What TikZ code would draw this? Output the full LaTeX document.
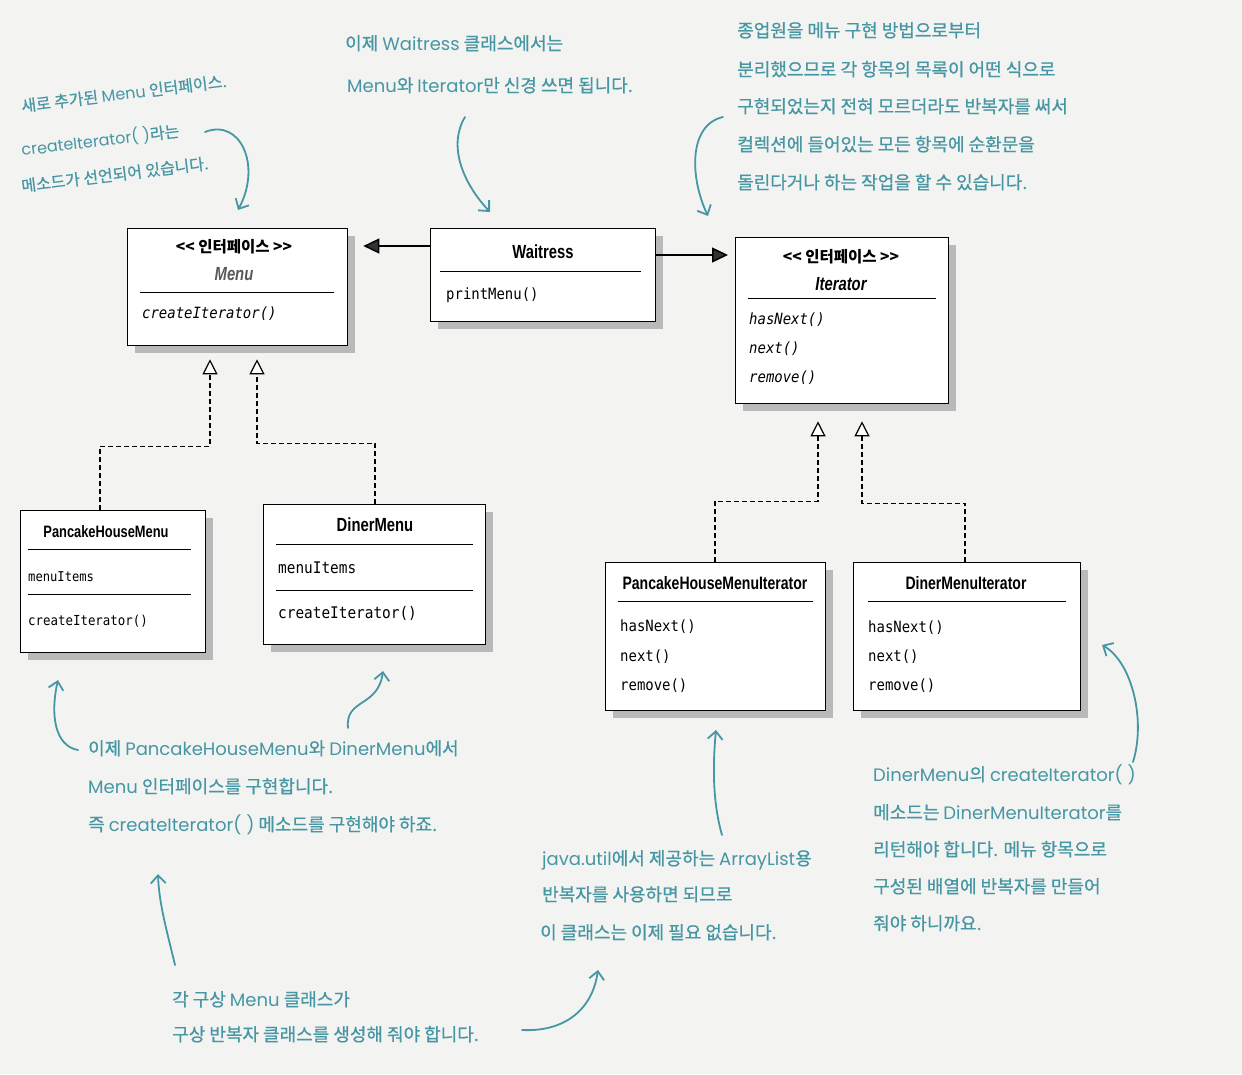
\documentclass[tikz,border=0pt]{standalone}
\usepackage{fontspec}
\setmainfont{Noto Sans CJK KR}
\newfontfamily\hand[FakeBold=0.7]{Noto Sans CJK KR}
\newfontfamily\lat{Poppins}
\newfontfamily\kr{Noto Sans CJK KR}
\newfontfamily\cls[FakeStretch=0.78]{Liberation Sans}
\newfontfamily\mono[FakeStretch=0.9]{DejaVu Sans Mono}
\newcommand\lt[1]{{\lat #1}}
\usetikzlibrary{arrows.meta,shadows,calc}
\definecolor{teal1}{HTML}{4696A4}
\definecolor{bg}{HTML}{F3F4F2}
\definecolor{tipgray}{HTML}{333333}
\tikzset{
  umlbox/.style={draw=black, line width=1.3pt, fill=white, anchor=north west, inner sep=0pt,
    drop shadow={shadow xshift=7pt, shadow yshift=-7pt, fill=gray!55, opacity=1}},
  sepline/.style={draw=black, line width=0.9pt},
  ctitle/.style={font=\cls\bfseries\fontsize{19}{19}\selectfont, anchor=base, inner sep=0pt},
  ititle/.style={font=\cls\bfseries\itshape\fontsize{19}{19}\selectfont, anchor=base, inner sep=0pt},
  hdr/.style={font=\kr\bfseries\fontsize{15.5}{15.5}\selectfont, anchor=base, inner sep=0pt},
  meth/.style={font=\mono\fontsize{15.5}{15.5}\selectfont, anchor=base west, inner sep=0pt},
  imeth/.style={font=\mono\itshape\fontsize{15.5}{15.5}\selectfont, anchor=base west, inner sep=0pt},
  hw/.style={font=\hand\fontsize{18}{18}\selectfont, text=teal1, anchor=base west, inner sep=0pt},
  hwr/.style={hw, rotate=7, font=\hand\fontsize{16}{16}\selectfont},
  assoc/.style={draw=black, line width=1.5pt, -{Triangle[length=16pt,width=15pt,fill=tipgray]}},
  realize/.style={draw=black, line width=1.2pt, dash pattern=on 5pt off 3pt,
    -{Triangle[open,length=15pt,width=15pt,fill=white]}},
  note/.style={draw=teal1, line width=1.8pt, line cap=round,
    -{Straight Barb[length=8pt,width=15pt,line width=1.8pt]}}
}
\begin{document}
\begin{tikzpicture}[x=1pt,y=-1pt]
\fill[bg] (0,0) rectangle (1242,1074);
\useasboundingbox (0,0) rectangle (1242,1074);

% ---------- Menu interface ----------
\node[umlbox, minimum width=220, minimum height=117] (menu) at (127,228) {};
\node[hdr] (menuS) at (234,252) {{<}{<} 인터페이스 {>}{>}};
\node[ititle, text=black!65] (menuN) at (234,280) {Menu};
\draw[sepline] ($(menu.north west)+(13,64)$) -- ($(menu.north east)+(-14,64)$);
\node[imeth] (menuM) at (142,318) {createIterator()};

% ---------- Waitress ----------
\node[umlbox, minimum width=225, minimum height=93] (waitress) at (430,228) {};
\node[ctitle] (waitN) at (543,258) {Waitress};
\draw[sepline] ($(waitress.north west)+(10,43)$) -- ($(waitress.north east)+(-15,43)$);
\node[meth] (waitM) at (446,299) {printMenu()};

% ---------- Iterator interface ----------
\node[umlbox, minimum width=213, minimum height=166] (iter) at (735,237) {};
\node[hdr] (iterS) at (841,262) {{<}{<} 인터페이스 {>}{>}};
\node[ititle] (iterN) at (841,290) {Iterator};
\draw[sepline] ($(iter.north west)+(13,61)$) -- ($(iter.north east)+(-13,61)$);
\node[imeth] (iterM1) at (749,324) {hasNext()};
\node[imeth] (iterM2) at (749,353) {next()};
\node[imeth] (iterM3) at (749,382) {remove()};

% ---------- PancakeHouseMenu ----------
\node[umlbox, minimum width=185, minimum height=142] (phm) at (20,510) {};
\node[ctitle, font=\cls\bfseries\fontsize{16.5}{16.5}\selectfont] (phmN) at (106,537) {PancakeHouseMenu};
\draw[sepline] ($(phm.north west)+(8,39)$) -- ($(phm.north east)+(-15,39)$);
\node[meth, font=\mono\fontsize{13.5}{13.5}\selectfont] (phmA) at (28,581) {menuItems};
\draw[sepline] ($(phm.north west)+(8,84)$) -- ($(phm.north east)+(-15,84)$);
\node[meth, font=\mono\fontsize{13.8}{13.8}\selectfont] (phmM) at (28,625) {createIterator()};

% ---------- DinerMenu ----------
\node[umlbox, minimum width=222, minimum height=140] (dm) at (263,504) {};
\node[ctitle] (dmN) at (375,531) {DinerMenu};
\draw[sepline] ($(dm.north west)+(13,40)$) -- ($(dm.north east)+(-13,40)$);
\node[meth, font=\mono\fontsize{16}{16}\selectfont] (dmA) at (278,573) {menuItems};
\draw[sepline] ($(dm.north west)+(13,86)$) -- ($(dm.north east)+(-13,86)$);
\node[meth, font=\mono\fontsize{16}{16}\selectfont] (dmM) at (278,618) {createIterator()};

% ---------- PancakeHouseMenuIterator ----------
\node[umlbox, minimum width=220, minimum height=148] (phmi) at (605,562) {};
\node[ctitle, font=\cls\bfseries\fontsize{18}{18}\selectfont] (phmiN) at (715,589) {PancakeHouseMenuIterator};
\draw[sepline] ($(phmi.north west)+(13,39)$) -- ($(phmi.north east)+(-13,39)$);
\node[meth] (phmiM1) at (620,631) {hasNext()};
\node[meth] (phmiM2) at (620,661) {next()};
\node[meth] (phmiM3) at (620,690) {remove()};

% ---------- DinerMenuIterator ----------
\node[umlbox, minimum width=227, minimum height=148] (dmi) at (853,562) {};
\node[ctitle, font=\cls\bfseries\fontsize{18}{18}\selectfont] (dmiN) at (966,589) {DinerMenuIterator};
\draw[sepline] ($(dmi.north west)+(15,39)$) -- ($(dmi.north east)+(-15,39)$);
\node[meth] (dmiM1) at (868,632) {hasNext()};
\node[meth] (dmiM2) at (868,661) {next()};
\node[meth] (dmiM3) at (868,690) {remove()};

% ---------- associations ----------
\draw[assoc] ($(waitress.north west)+(0,18)$) -- ($(menu.north east)+(15,18)$);
\draw[assoc] ($(waitress.north east)+(0,27)$) -- ($(iter.north west)+(-7,18)$);

% ---------- realizations ----------
\coordinate (menuTipA) at ($(menu.south west)+(83,13)$);
\coordinate (menuTipB) at ($(menu.south west)+(130,13)$);
\coordinate (iterTipA) at ($(iter.south west)+(83,17)$);
\coordinate (iterTipB) at ($(iter.south west)+(127,17)$);
\draw[realize] ($(phm.north west)+(80,0)$) |- ($(menuTipA)+(0,87)$) -- (menuTipA);
\draw[realize] ($(dm.north west)+(112,0)$) |- ($(menuTipB)+(0,84)$) -- (menuTipB);
\draw[realize] ($(phmi.north west)+(110,0)$) |- ($(iterTipA)+(0,80)$) -- (iterTipA);
\draw[realize] ($(dmi.north west)+(112,0)$) |- ($(iterTipB)+(0,82)$) -- (iterTipB);

% ---------- handwritten notes ----------
\node[hwr] (nA1) at (22,112) {새로 추가된 \lt{Menu} 인터페이스.};
\node[hwr] (nA2) at (22,156) {\lt{createIterator( )}라는};
\node[hwr] (nA3) at (22,192) {메소드가 선언되어 있습니다.};

\node[hw] (nB1) at (345,50) {이제 \lt{Waitress} 클래스에서는};
\node[hw] (nB2) at (347,92) {\lt{Menu}와 \lt{Iterator}만 신경 쓰면 됩니다.};

\node[hw] (nC1) at (737,37) {종업원을 메뉴 구현 방법으로부터};
\node[hw] (nC2) at (737,76) {분리했으므로 각 항목의 목록이 어떤 식으로};
\node[hw] (nC3) at (737,113) {구현되었는지 전혀 모르더라도 반복자를 써서};
\node[hw] (nC4) at (737,151) {컬렉션에 들어있는 모든 항목에 순환문을};
\node[hw] (nC5) at (737,189) {돌린다거나 하는 작업을 할 수 있습니다.};

\node[hw] (nD1) at (88,755) {이제 \lt{PancakeHouseMenu}와 \lt{DinerMenu}에서};
\node[hw] (nD2) at (88,793) {\lt{Menu} 인터페이스를 구현합니다.};
\node[hw] (nD3) at (88,831) {즉 \lt{createIterator( )} 메소드를 구현해야 하죠.};

\node[hw] (nE1) at (542,865) {\lt{java.util}에서 제공하는 \lt{ArrayList}용};
\node[hw] (nE2) at (542,901) {반복자를 사용하면 되므로};
\node[hw] (nE3) at (540,939) {이 클래스는 이제 필요 없습니다.};

\node[hw] (nF1) at (873,781) {\lt{DinerMenu}의 \lt{createIterator( )}};
\node[hw] (nF2) at (873,819) {메소드는 \lt{DinerMenuIterator}를};
\node[hw] (nF3) at (873,856) {리턴해야 합니다. 메뉴 항목으로};
\node[hw] (nF4) at (873,893) {구성된 배열에 반복자를 만들어};
\node[hw] (nF5) at (873,930) {줘야 하니까요.};

\node[hw] (nG1) at (172,1006) {각 구상 \lt{Menu} 클래스가};
\node[hw] (nG2) at (172,1041) {구상 반복자 클래스를 생성해 줘야 합니다.};

% ---------- note arrows ----------
\coordinate (a1s) at (205,132); \coordinate (a1e) at (238,210);
\draw[note] (a1s) .. controls (240,118) and (262,165) .. (a1e);
\coordinate (a2s) at (465,117); \coordinate (a2e) at (490,212);
\draw[note] (a2s) .. controls (448,145) and (462,182) .. (a2e);
\coordinate (a3s) at (723,117); \coordinate (a3e) at (708,216);
\draw[note] (a3s) .. controls (688,125) and (690,178) .. (a3e);
\coordinate (a4s) at (78,750); \coordinate (a4e) at (58,680);
\draw[note] (a4s) .. controls (55,746) and (50,715) .. (a4e);
\coordinate (a5s) at (348,728); \coordinate (a5e) at (383,671);
\draw[note] (a5s) .. controls (345,698) and (378,708) .. (a5e);
\coordinate (a6s) at (722,835); \coordinate (a6e) at (716,730);
\draw[note] (a6s) .. controls (712,800) and (713,762) .. (a6e);
\coordinate (a7s) at (1133,762); \coordinate (a7e) at (1102,645);
\draw[note] (a7s) .. controls (1146,720) and (1132,662) .. (a7e);
\coordinate (a8s) at (175,965); \coordinate (a8e) at (158,874);
\draw[note] (a8s) .. controls (168,935) and (159,905) .. (a8e);
\coordinate (a9s) at (522,1030); \coordinate (a9e) at (598,970);
\draw[note] (a9s) .. controls (562,1032) and (592,1012) .. (a9e);
\end{tikzpicture}
\end{document}
